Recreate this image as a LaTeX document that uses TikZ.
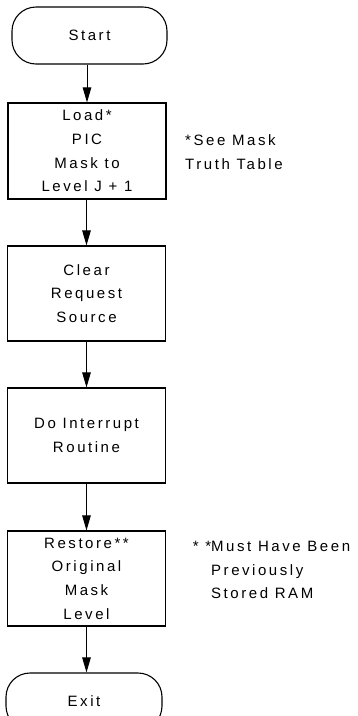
\documentclass[tikz,border=0pt]{standalone}
\usepackage{fontspec}
\setmainfont[LetterSpace=17]{Liberation Sans}
\usetikzlibrary{arrows.meta}
\tikzset{
  flowbox/.style={draw, line width=1.1pt, minimum width=158pt, minimum height=95pt, inner sep=0pt, align=center},
  term/.style={draw, line width=1.1pt, rounded corners=24pt, minimum height=57pt, inner sep=0pt, align=center},
  note/.style={inner sep=0pt, align=left, anchor=west},
  flow/.style={line width=1pt, -{Triangle[length=15pt,width=8.5pt]}},
  every node/.append style={font=\fontsize{15}{23.7}\selectfont}
}
\begin{document}
\begin{tikzpicture}[x=1pt,y=-1pt]
\useasboundingbox (0,0) rectangle (357,716);
\node[term, minimum width=155pt] (start) at (89.5,35.5) {Start};
\node[flowbox, minimum height=96pt] (load) at (87,151) {Load*\\PIC\\Mask to\\Level J + 1};
\node[flowbox] (clear) at (86.5,293.5) {Clear\\Request\\Source};
\node[flowbox] (do) at (86.5,435.5) {Do Interrupt\\Routine};
\node[flowbox] (restore) at (86.5,578.5) {Restore**\\Original\\Mask\\Level};
\node[term, minimum width=156pt] (exit) at (84,701.5) {Exit};
\node[note] (n1) at (185,152) {*See Mask\\Truth Table};
\node[note] (n2) at (211,570) {\llap{* *}Must Have Been\\Previously\\Stored RAM};
\draw[flow] (start.south -| load.north) -- (load.north);
\draw[flow] (load.south -| clear.north) -- (clear.north);
\draw[flow] (clear) -- (do);
\draw[flow] (do) -- (restore);
\draw[flow] (restore.south) -- (restore.south |- exit.north);
\end{tikzpicture}
\end{document}
